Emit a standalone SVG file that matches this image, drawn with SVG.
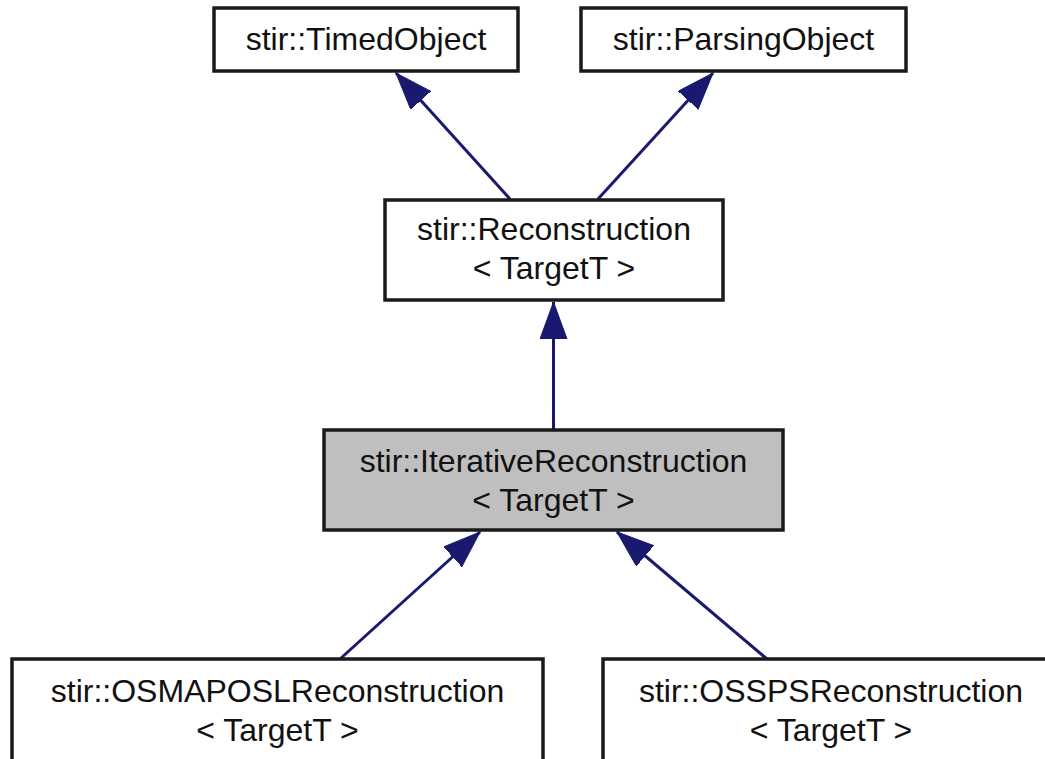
<svg xmlns="http://www.w3.org/2000/svg" width="1045" height="759" viewBox="0 0 1045 759">
  <style>
    .box { fill: #ffffff; stroke: #1a1a1a; stroke-width: 3.5; }
    .hl { fill: #bfbfbf; }
    .lbl { font-family: "Liberation Sans", Arial, sans-serif; font-size: 32px; fill: #111; text-anchor: middle; }
    .edge { stroke: #191970; stroke-width: 3; fill: none; }
  </style>
  <defs>
    <marker id="arr" markerUnits="userSpaceOnUse" markerWidth="40" markerHeight="30" refX="37" refY="13.5" orient="auto">
      <path d="M0,0 L37,13.5 L0,27 Z" fill="#191970" stroke="#191970" stroke-width="1"/>
    </marker>
  </defs>
  <rect width="1045" height="759" fill="#ffffff"/>

  <g id="connectors">
    <line class="edge" x1="510" y1="199" x2="396" y2="73" marker-end="url(#arr)"/>
    <line class="edge" x1="598" y1="199" x2="713" y2="73" marker-end="url(#arr)"/>
    <line class="edge" x1="553.5" y1="430" x2="553.5" y2="302" marker-end="url(#arr)"/>
    <line class="edge" x1="340" y1="659" x2="480" y2="532" marker-end="url(#arr)"/>
    <line class="edge" x1="767" y1="659" x2="617" y2="532" marker-end="url(#arr)"/>
  </g>

  <g id="node-timedobject">
    <rect class="box" x="214" y="8" width="304" height="63"/>
    <text class="lbl" x="366" y="50">stir::TimedObject</text>
  </g>

  <g id="node-parsingobject">
    <rect class="box" x="581" y="8" width="325" height="63"/>
    <text class="lbl" x="743.5" y="50">stir::ParsingObject</text>
  </g>

  <g id="node-reconstruction">
    <rect class="box" x="385" y="200" width="338" height="100"/>
    <text class="lbl" x="554" y="240">stir::Reconstruction</text>
    <text class="lbl" x="554" y="279">&lt; TargetT &gt;</text>
  </g>

  <g id="node-iterative">
    <rect class="box hl" x="324" y="430" width="459" height="100"/>
    <text class="lbl" x="553.5" y="472">stir::IterativeReconstruction</text>
    <text class="lbl" x="553.5" y="511">&lt; TargetT &gt;</text>
  </g>

  <g id="node-osmaposl">
    <rect class="box" x="12" y="659" width="531" height="104"/>
    <text class="lbl" x="277.5" y="702">stir::OSMAPOSLReconstruction</text>
    <text class="lbl" x="277.5" y="741">&lt; TargetT &gt;</text>
  </g>

  <g id="node-osspsl">
    <rect class="box" x="603" y="659" width="460" height="104"/>
    <text class="lbl" x="831" y="702">stir::OSSPSReconstruction</text>
    <text class="lbl" x="831" y="741">&lt; TargetT &gt;</text>
  </g>
</svg>
